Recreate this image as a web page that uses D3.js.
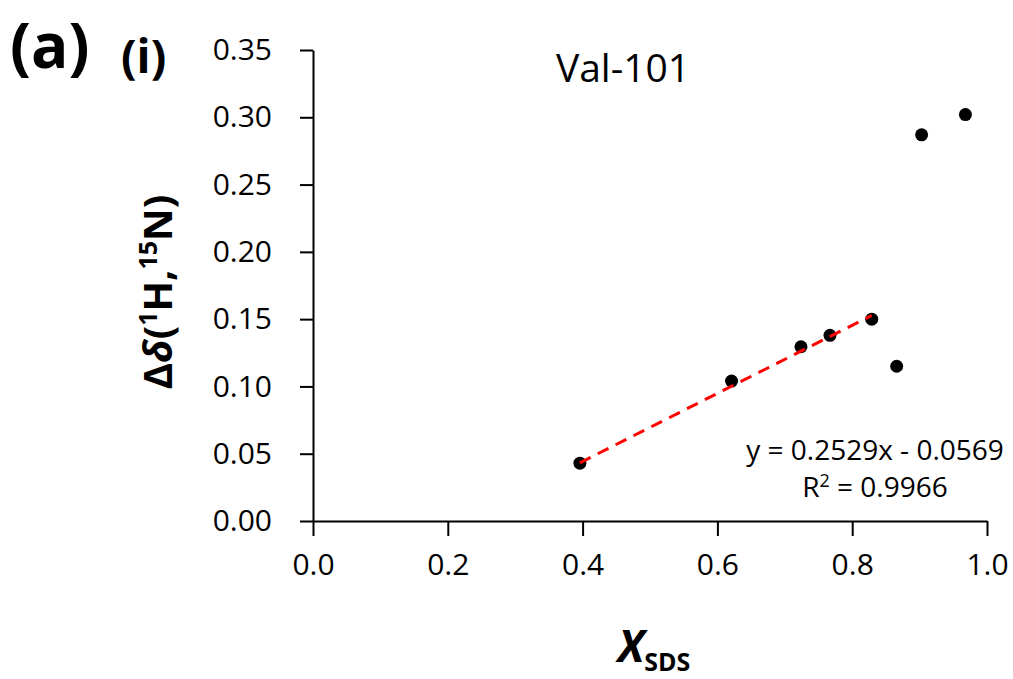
<!DOCTYPE html>
<html>
<head>
<meta charset="utf-8">
<script src="https://cdn.jsdelivr.net/npm/d3@7"></script>
<style>
  body { margin: 0; background: #fff; }
  text { font-family: "Open Sans", sans-serif; fill: #000; }
</style>
</head>
<body>
<div id="chart-area"></div>
<script>
const MARGIN = { LEFT: 313, RIGHT: 26, TOP: 50, BOTTOM: 158 }
const WIDTH = 1013 - MARGIN.LEFT - MARGIN.RIGHT
const HEIGHT = 679 - MARGIN.TOP - MARGIN.BOTTOM

// data
const xSDS = [0.396, 0.621, 0.724, 0.767, 0.829, 0.866, 0.903, 0.968]
const shift = [0.043, 0.104, 0.1295, 0.138, 0.150, 0.115, 0.287, 0.302]
const fitIdx = [0, 1, 2, 3, 4]
const fitSlope = 0.2529
const fitIntercept = -0.0569
const xTicks = [0, 0.2, 0.4, 0.6, 0.8, 1.0]
const yTicks = [0, 0.05, 0.10, 0.15, 0.20, 0.25, 0.30, 0.35]

const svg = d3.select("#chart-area").append("svg")
  .attr("width", 1013)
  .attr("height", 679)

const g = svg.append("g")
  .attr("transform", `translate(${MARGIN.LEFT}, ${MARGIN.TOP})`)

const x = d3.scaleLinear().domain([0, 1]).range([0, WIDTH])
const y = d3.scaleLinear().domain([0, 0.35]).range([HEIGHT, 0])

const yAxisCall = d3.axisLeft(y)
  .tickValues(yTicks)
  .tickFormat(d3.format(".2f"))
  .tickSize(13)
  .tickSizeOuter(0)
  .tickPadding(28)

const xAxisCall = d3.axisBottom(x)
  .tickValues(xTicks)
  .tickFormat(d3.format(".1f"))
  .tickSize(15)
  .tickSizeOuter(0)
  .tickPadding(18)

const yAxisGroup = g.append("g").attr("class", "y axis").call(yAxisCall)
const xAxisGroup = g.append("g").attr("class", "x axis")
  .attr("transform", `translate(0, ${HEIGHT})`)
  .call(xAxisCall)

g.selectAll(".axis path, .axis line")
  .attr("stroke", "#000")
  .attr("stroke-width", 2)
g.selectAll(".axis text")
  .attr("font-size", "30px")
  .attr("font-family", "Open Sans, sans-serif")
  .attr("fill", "#000")

g.selectAll("circle")
  .data(d3.zip(xSDS, shift))
  .enter().append("circle")
  .attr("cx", d => x(d[0]))
  .attr("cy", d => y(d[1]))
  .attr("r", 6.5)
  .attr("fill", "#000")

// trendline over the fitted points (drawn on top, like excel)
const fx = d3.extent(fitIdx, i => xSDS[i])
g.append("line")
  .attr("x1", x(fx[0]))
  .attr("y1", y(fitSlope * fx[0] + fitIntercept))
  .attr("x2", x(fx[1]))
  .attr("y2", y(fitSlope * fx[1] + fitIntercept))
  .attr("stroke", "#f00")
  .attr("stroke-width", 3)
  .attr("stroke-dasharray", "12,8")

// title
g.append("text")
  .attr("x", 310)
  .attr("y", 32)
  .attr("font-size", "39px")
  .attr("text-anchor", "middle")
  .text("Val-101")

// equation label
const eq = g.append("text")
  .attr("x", 562)
  .attr("y", 410)
  .attr("font-size", "28px")
  .attr("text-anchor", "middle")
eq.append("tspan").attr("x", 562).text("y = 0.2529x - 0.0569")
const r2 = eq.append("tspan").attr("x", 562).attr("dy", 37)
r2.append("tspan").text("R")
r2.append("tspan").attr("font-size", "18px").attr("dy", -10).text("2")
r2.append("tspan").attr("dy", 10).text(" = 0.9966")

// panel labels
svg.append("text")
  .attr("x", 10)
  .attr("y", 68)
  .attr("font-size", "62px")
  .attr("font-weight", "bold")
  .text("(a)")

svg.append("text")
  .attr("x", 121)
  .attr("y", 73)
  .attr("font-size", "46px")
  .attr("font-weight", "bold")
  .text("(i)")

// Y label
const yLabel = svg.append("text")
  .attr("transform", "translate(172, 292) rotate(-90)")
  .attr("text-anchor", "middle")
  .attr("font-size", "40px")
  .attr("font-weight", "bold")
yLabel.append("tspan").text("Δ")
yLabel.append("tspan").attr("font-style", "italic").text("δ")
yLabel.append("tspan").text("(")
yLabel.append("tspan").attr("font-size", "25px").attr("dy", -15).text("1")
yLabel.append("tspan").attr("dy", 15).text("H,")
yLabel.append("tspan").attr("font-size", "25px").attr("dy", -15).text("15")
yLabel.append("tspan").attr("dy", 15).text("N)")

// X label
const xLabel = svg.append("text")
  .attr("x", 654)
  .attr("y", 662)
  .attr("text-anchor", "middle")
  .attr("font-weight", "bold")
xLabel.append("tspan").attr("font-size", "44px").attr("font-style", "italic").text("X")
xLabel.append("tspan").attr("font-size", "25px").attr("dy", 9).text("SDS")
</script>
</body>
</html>
